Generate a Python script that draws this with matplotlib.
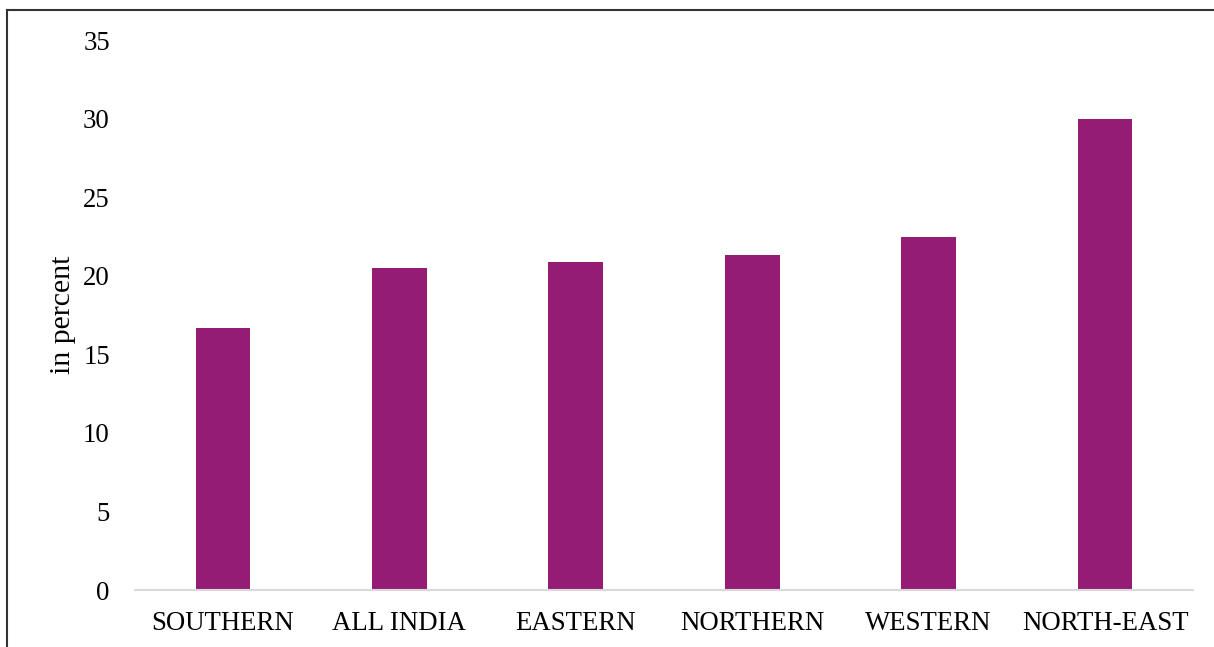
import matplotlib.pyplot as plt
from matplotlib.lines import Line2D

regions = ['SOUTHERN', 'ALL INDIA', 'EASTERN', 'NORTHERN', 'WESTERN', 'NORTH-EAST']
share = [16.7, 20.5, 20.9, 21.3, 22.5, 30.0]
yticks = [0, 5, 10, 15, 20, 25, 30, 35]

plt.rcParams['font.family'] = ['Liberation Serif', 'DejaVu Serif']

fig = plt.figure(figsize=(12.14, 6.47), dpi=100)
ax = fig.add_axes([0.111, 0.088, 0.872, 0.85])

x = range(len(regions))
ax.bar(x, share, width=0.31, color='#941c74', zorder=2)

ax.set_xlim(-0.5, len(regions) - 0.5)
ax.set_ylim(0, 35)
ax.set_yticks(yticks)
ax.set_xticks(list(x))
ax.set_xticklabels(regions)
ax.tick_params(axis='both', length=0, labelsize=19.3, colors='black')
ax.tick_params(axis='y', pad=18)
ax.tick_params(axis='x', pad=15)
ax.set_ylabel('in percent', fontsize=21.5, labelpad=5)

for s in ['top', 'right', 'left']:
    ax.spines[s].set_visible(False)
ax.spines['bottom'].set_color('#d9d9d9')
ax.spines['bottom'].set_linewidth(1.5)

# outer frame, only top and left edges are visible
fig.add_artist(Line2D([7 / 1214, 1], [1 - 10 / 647, 1 - 10 / 647], color='#333333', lw=1.5))
fig.add_artist(Line2D([7 / 1214, 7 / 1214], [0, 1 - 10 / 647], color='#333333', lw=1.5))

fig.savefig('out.png', dpi=100)
